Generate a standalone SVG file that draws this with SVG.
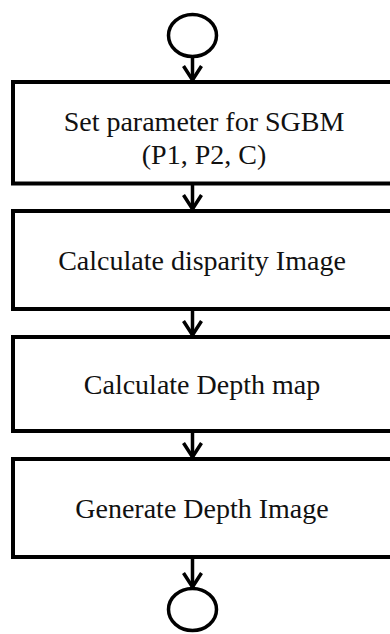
<svg xmlns="http://www.w3.org/2000/svg" width="390" height="634" viewBox="0 0 390 634">
  <defs>
    <style>
      .term { fill: #ffffff; stroke: #000000; stroke-width: 3.5; }
      .step { fill: #ffffff; stroke: #000000; stroke-width: 4; }
      .label { font-family: "Liberation Serif", "Times New Roman", serif; font-size: 28px; fill: #111111; text-anchor: middle; dominant-baseline: central; }
      .flow line, .flow polyline { fill: none; stroke: #000000; stroke-width: 3.5; }
    </style>
  </defs>
  <rect x="0" y="0" width="390" height="634" fill="#ffffff"/>

  <!-- connectors: shaft plus open V head -->
  <g id="connectors" class="flow">
    <line x1="192.5" y1="57" x2="192.5" y2="80"/>
    <polyline points="183.5,66 192.5,80 201.5,66"/>
    <line x1="192.5" y1="185" x2="192.5" y2="209"/>
    <polyline points="183.5,195 192.5,209 201.5,195"/>
    <line x1="192.5" y1="311" x2="192.5" y2="335"/>
    <polyline points="183.5,321 192.5,335 201.5,321"/>
    <line x1="192.5" y1="433" x2="192.5" y2="457"/>
    <polyline points="183.5,443 192.5,457 201.5,443"/>
    <line x1="192.5" y1="559" x2="192.5" y2="587"/>
    <polyline points="183.5,573 192.5,587 201.5,573"/>
  </g>

  <g id="start">
    <ellipse class="term" cx="192.5" cy="35.5" rx="24" ry="21"/>
  </g>

  <g id="set-parameters">
    <rect class="step" x="13" y="82" width="380" height="101.5"/>
    <text class="label" x="204" y="121">Set parameter for SGBM</text>
    <text class="label" x="204" y="154">(P1, P2, C)</text>
  </g>

  <g id="disparity-image">
    <rect class="step" x="13" y="211" width="380" height="98"/>
    <text class="label" x="202" y="260">Calculate disparity Image</text>
  </g>

  <g id="depth-map">
    <rect class="step" x="13" y="337" width="380" height="94"/>
    <text class="label" x="202" y="384">Calculate Depth map</text>
  </g>

  <g id="depth-image">
    <rect class="step" x="13" y="459" width="380" height="98"/>
    <text class="label" x="202" y="508">Generate Depth Image</text>
  </g>

  <g id="end">
    <ellipse class="term" cx="192.5" cy="609.5" rx="24" ry="21"/>
  </g>
</svg>
